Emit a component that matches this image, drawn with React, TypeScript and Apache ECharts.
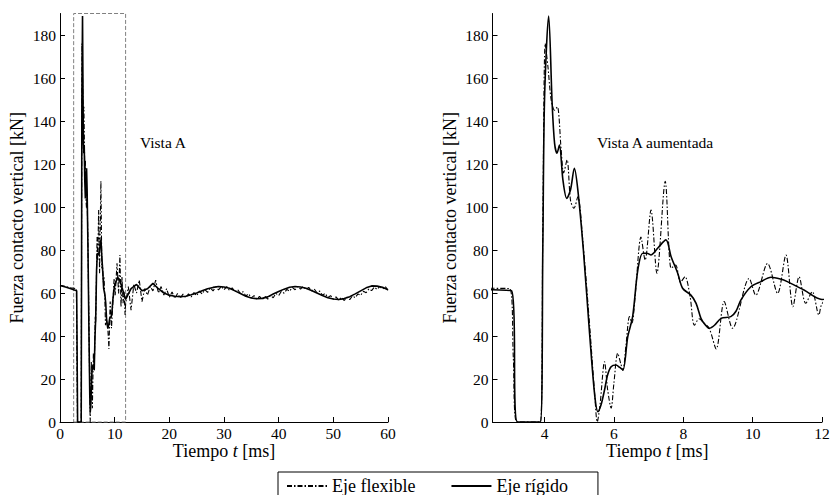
import React, { useEffect, useRef } from 'react';
import * as echarts from 'echarts';

const FONT = 'Liberation Serif';

// Tick labels
const yTicks = [0, 20, 40, 60, 80, 100, 120, 140, 160, 180];
const leftXTicks = [0, 10, 20, 30, 40, 50, 60];
const rightXTicks = [4, 6, 8, 10, 12];

// Eje rígido (solid)
const rigidTime = [
  0, 1, 2, 2.5, 3.05, 3.22, 3.88, 3.95, 4.0, 4.12,
  4.22, 4.29, 4.36, 4.43, 4.53, 4.64, 4.75, 4.86, 4.96, 5.12,
  5.3, 5.45, 5.54, 5.63, 5.73, 5.82, 5.92, 6.06, 6.16, 6.26,
  6.4, 6.54, 6.69, 6.83, 6.95, 7.07, 7.26, 7.5, 7.65, 7.84,
  7.98, 8.22, 8.37, 8.51, 8.62, 8.75, 8.9, 9.09, 9.37, 9.52,
  9.66, 9.95, 10.24, 10.53, 10.8, 11.0, 11.48, 12,
  13, 14, 15, 16, 17, 18, 19, 20, 21, 22,
  23, 24, 25, 26, 27, 28, 29, 30, 31, 32,
  33, 34, 35, 36, 37, 38, 39, 40, 41, 42,
  43, 44, 45, 46, 47, 48, 49, 50, 51, 52,
  53, 54, 55, 56, 57, 58, 59, 60,
];
const rigidForce = [
  63.5, 62.8, 62, 61.5, 61, 0, 0, 80, 150, 188.8,
  148, 129.6, 125, 128.8, 112.6, 104, 108, 118, 108, 80,
  41, 12, 4.8, 8, 14.9, 22, 25.7, 26.5, 25.5, 24.2,
  39.7, 49, 70.7, 78.5, 78.5, 77.7, 80.8, 84.7, 76.9, 69.2,
  62.2, 59, 55.2, 48.2, 45.5, 43.6, 45, 48.2, 49, 51.5,
  56.7, 62.9, 65.3, 67.3, 66.5, 65.3, 61.4, 57,
  62, 64, 61, 62, 64.5, 62, 60, 59, 58.5, 58.3,
  58.5, 59.2, 60, 61, 62, 62.6, 63, 62.8, 62.2, 61,
  59.8, 58.5, 57.7, 57.3, 57.5, 58.2, 59.5, 60.7, 61.8, 62.7,
  63, 62.8, 62.2, 61.2, 60, 58.8, 57.8, 57.2, 57, 57.4,
  58.3, 59.6, 61, 62.4, 63.3, 63.2, 62.7, 61.5,
];

// Eje flexible (dash-dot)
const flexTime = [
  0, 1, 2, 2.5, 3.0, 3.1, 3.2, 3.88, 3.95, 4.02,
  4.1, 4.19, 4.29, 4.37, 4.48, 4.55, 4.65, 4.75, 4.85, 4.96,
  5.1, 5.3, 5.45, 5.52, 5.6, 5.73, 5.82, 5.92, 6.0, 6.11,
  6.2, 6.26, 6.35, 6.45, 6.52, 6.62, 6.78, 6.9, 7.07, 7.24,
  7.48, 7.65, 7.78, 7.92, 8.05, 8.2, 8.32, 8.46, 8.6, 8.75,
  8.95, 9.18, 9.42, 9.9, 10.09, 10.43, 10.72, 10.96, 11.16, 11.34,
  11.53, 11.72, 11.91,
  12, 12.5, 13, 13.5, 14, 14.5, 15, 15.5, 16, 16.5,
  17, 17.5, 18, 18.5, 19, 19.5, 20, 20.5, 21, 21.5,
  22, 22.5, 23, 23.5, 24, 24.5, 25, 25.5, 26, 26.5,
  27, 27.5, 28, 28.5, 29, 29.5, 30, 30.5, 31, 31.5,
  32, 32.5, 33, 33.5, 34, 34.5, 35, 35.5, 36, 36.5,
  37, 37.5, 38, 38.5, 39, 39.5, 40, 40.5, 41, 41.5,
  42, 42.5, 43, 43.5, 44, 44.5, 45, 45.5, 46, 46.5,
  47, 47.5, 48, 48.5, 49, 49.5, 50, 50.5, 51, 51.5,
  52, 52.5, 53, 53.5, 54, 54.5, 55, 55.5, 56, 56.5,
  57, 57.5, 58, 58.5, 59, 59.5, 60,
];
const flexForce = [
  63.6, 63, 62.4, 62.2, 62, 30, 0, 0, 90, 176,
  165, 150, 145, 146.6, 126.5, 115.8, 121.9, 103, 99.4, 104.8,
  85, 45, 12, 0, 8, 28, 15, 6.4, 18, 32,
  27, 24, 36, 49, 46, 60, 86, 75.3, 98.6, 69.2,
  112, 71.5, 73, 65, 67.6, 58, 45, 48, 46, 43.5,
  34, 56, 43.6, 66.8, 59, 73.8, 59.8, 77.7, 53.6, 67.6,
  55.2, 60.6, 49.8,
  55, 63, 52, 64, 60, 66, 56, 62, 59, 63,
  61, 66, 60, 63, 59, 62, 58, 60.5, 57.5, 59.8,
  57.6, 59.5, 57.8, 59.6, 58.2, 60.2, 58.7, 60.9, 59.5, 61.6,
  60.3, 62.4, 61, 62.9, 61.4, 63.1, 61.5, 63, 61.2, 62.4,
  60.6, 61.6, 59.7, 60.6, 58.6, 59.6, 57.7, 58.8, 57.1, 58.4,
  56.9, 58.4, 57.1, 58.9, 57.8, 59.8, 58.8, 60.8, 59.9, 61.7,
  60.8, 62.6, 61.5, 63.1, 61.8, 63.1, 61.6, 62.6, 61, 61.9,
  60.1, 60.9, 59, 59.8, 57.9, 58.8, 57.1, 58.2, 56.6, 58,
  56.5, 58.1, 56.9, 58.7, 57.8, 59.6, 58.9, 60.8, 60.1, 61.9,
  61.1, 62.7, 61.7, 63.1, 61.8, 63, 61.3,
];

// Zoomed view window ("Vista A")
const viewStart = 2.5;
const viewEnd = 12;
const yMax = 190;

const rigidData = rigidTime.map((t, i) => [t, rigidForce[i]]);
const flexData = flexTime.map((t, i) => [t, flexForce[i]]);

const FLEX = 'Eje flexible';
const RIGID = 'Eje rígido';

const textBase = { color: '#000', fontFamily: FONT };

function makeXAxis(gridIndex: number, min: number, max: number, ticks: number[]) {
  return {
    type: 'value',
    gridIndex,
    min,
    max,
    name: 'Tiempo {i|t} [ms]',
    nameLocation: 'middle',
    nameGap: 20,
    nameMoveOverlap: false,
    nameTextStyle: {
      ...textBase,
      fontSize: 18,
      rich: { i: { ...textBase, fontSize: 18, fontStyle: 'italic' } },
    },
    axisLine: { show: true, onZero: false, lineStyle: { color: '#000', width: 1 } },
    axisTick: { show: true, inside: true, length: 5, customValues: ticks, lineStyle: { color: '#000', width: 1 } },
    axisLabel: { ...textBase, fontSize: 15.5, margin: 3, customValues: ticks },
    splitLine: { show: false },
  };
}

function makeYAxis(gridIndex: number) {
  return {
    type: 'value',
    gridIndex,
    min: 0,
    max: yMax,
    name: 'Fuerza contacto vertical [kN]',
    nameLocation: 'middle',
    nameGap: 34,
    nameMoveOverlap: false,
    nameTextStyle: { ...textBase, fontSize: 18 },
    axisLine: { show: true, onZero: false, lineStyle: { color: '#000', width: 1 } },
    axisTick: { show: true, inside: true, length: 5, customValues: yTicks, lineStyle: { color: '#000', width: 1 } },
    axisLabel: { ...textBase, fontSize: 15.5, margin: 4, customValues: yTicks },
    splitLine: { show: false },
  };
}

const flexLine = { color: '#000', width: 1.1, type: [5, 2, 1.5, 2] };
const rigidLine = { color: '#000', width: 1.6, type: 'solid' };

const option = {
  animation: false,
  backgroundColor: '#fff',
  textStyle: { fontFamily: FONT },
  grid: [
    { left: 60, top: 13.5, width: 328, height: 408.5, outerBoundsMode: 'none', containLabel: false },
    { left: 492.5, top: 13.5, width: 329.5, height: 408.5, outerBoundsMode: 'none', containLabel: false },
  ],
  xAxis: [
    makeXAxis(0, 0, 60, leftXTicks),
    makeXAxis(1, viewStart, viewEnd, rightXTicks),
  ],
  yAxis: [makeYAxis(0), makeYAxis(1)],
  legend: {
    data: [FLEX, RIGID],
    left: 278,
    top: 472,
    orient: 'horizontal',
    backgroundColor: '#fff',
    borderColor: '#000',
    borderWidth: 1,
    borderRadius: 0,
    padding: [5, 30, 12, 8],
    itemGap: 35,
    itemWidth: 40,
    itemHeight: 2,
    selectedMode: false,
    itemStyle: { opacity: 0 },
    textStyle: { ...textBase, fontSize: 18 },
  },
  graphic: [
    {
      type: 'text',
      left: 140,
      top: 134,
      style: { text: 'Vista A', fill: '#000', fontFamily: FONT, fontSize: 15.5 },
    },
    {
      type: 'text',
      left: 597,
      top: 134,
      style: { text: 'Vista A aumentada', fill: '#000', fontFamily: FONT, fontSize: 15.5 },
    },
  ],
  series: [
    {
      name: FLEX,
      type: 'line',
      xAxisIndex: 0,
      yAxisIndex: 0,
      data: flexData,
      showSymbol: false,
      symbol: 'none',
      lineStyle: flexLine,
      itemStyle: { color: '#000' },
      markArea: {
        silent: true,
        label: { show: false },
        itemStyle: { color: 'rgba(0,0,0,0)', borderColor: '#808080', borderWidth: 1, borderType: [4, 2] },
        data: [[{ xAxis: viewStart, yAxis: 0 }, { xAxis: viewEnd, yAxis: yMax }]],
      },
    },
    {
      name: RIGID,
      type: 'line',
      xAxisIndex: 0,
      yAxisIndex: 0,
      data: rigidData,
      showSymbol: false,
      symbol: 'none',
      lineStyle: rigidLine,
      itemStyle: { color: '#000' },
    },
    {
      name: FLEX,
      type: 'line',
      xAxisIndex: 1,
      yAxisIndex: 1,
      data: flexData,
      showSymbol: false,
      symbol: 'none',
      smooth: 0.3,
      lineStyle: flexLine,
      itemStyle: { color: '#000' },
    },
    {
      name: RIGID,
      type: 'line',
      xAxisIndex: 1,
      yAxisIndex: 1,
      data: rigidData,
      showSymbol: false,
      symbol: 'none',
      smooth: 0.3,
      lineStyle: rigidLine,
      itemStyle: { color: '#000' },
    },
  ],
};

export default function App() {
  const ref = useRef<HTMLDivElement>(null);
  useEffect(() => {
    if (!ref.current) return;
    const chart = echarts.init(ref.current, null, { renderer: 'svg' });
    chart.setOption(option as any);
    return () => chart.dispose();
  }, []);
  return (
    <div
      ref={ref}
      style={{ position: 'absolute', left: 0, top: 0, width: 831, height: 495, background: '#fff' }}
    />
  );
}
